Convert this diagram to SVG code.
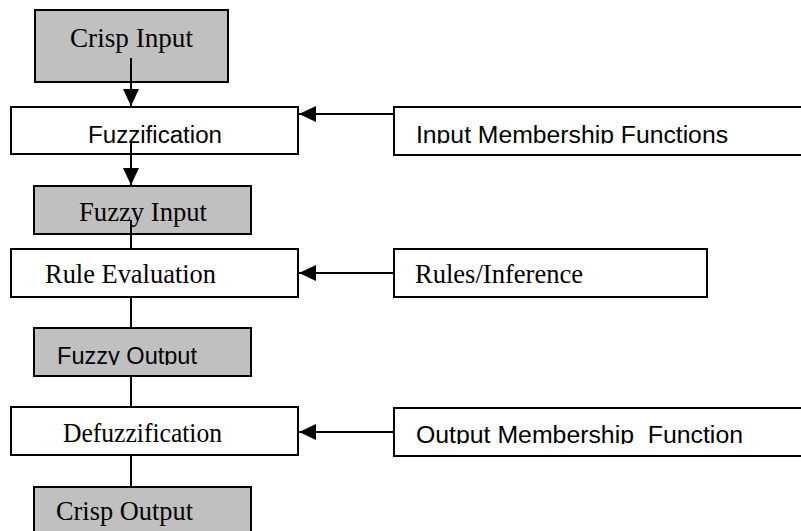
<svg xmlns="http://www.w3.org/2000/svg" width="801" height="531" viewBox="0 0 801 531">
<style>
.box{stroke:#000;stroke-width:2;fill:#fff}
.grey{fill:#c0c0c0}
.serif{font-family:"Liberation Serif","Times New Roman",serif;font-size:26.5px;fill:#000}
.sans{font-family:"Liberation Sans",Arial,sans-serif;font-size:23px;fill:#000}
.conn{stroke:#000;stroke-width:2;fill:none}
</style>
<defs>
<marker id="arr" markerUnits="userSpaceOnUse" markerWidth="17" markerHeight="16" refX="17" refY="8" orient="auto">
<path d="M0,0 L17,8 L0,16 z" fill="#000"/>
</marker>
<clipPath id="c1"><rect x="394" y="100" width="410" height="43.5"/></clipPath>
<clipPath id="c2"><rect x="34" y="320" width="220" height="45"/></clipPath>
<clipPath id="c3"><rect x="394" y="400" width="410" height="44"/></clipPath>
</defs>
<rect width="801" height="531" fill="#fff"/>
<g id="crisp-input">
<rect class="box grey" x="35" y="10" width="193" height="72"/>
<text class="serif" x="70" y="47" textLength="123" lengthAdjust="spacingAndGlyphs">Crisp Input</text>
</g>
<g id="fuzzification">
<rect class="box" x="11" y="107" width="287" height="47"/>
<text class="sans" x="88" y="143" textLength="134" lengthAdjust="spacingAndGlyphs">Fuzzification</text>
</g>
<g id="input-mf">
<rect class="box" x="394" y="107" width="420" height="48"/>
<text class="sans" x="416" y="142.5" textLength="312" lengthAdjust="spacingAndGlyphs" clip-path="url(#c1)">Input Membership Functions</text>
</g>
<g id="fuzzy-input">
<rect class="box grey" x="34" y="186" width="217" height="48"/>
<text class="serif" x="79" y="221" textLength="128" lengthAdjust="spacingAndGlyphs">Fuzzy Input</text>
</g>
<g id="rule-evaluation">
<rect class="box" x="11" y="249" width="287" height="48"/>
<text class="serif" x="45" y="283" textLength="171" lengthAdjust="spacingAndGlyphs">Rule Evaluation</text>
</g>
<g id="rules-inference">
<rect class="box" x="394" y="249" width="313" height="48"/>
<text class="serif" x="415" y="283" textLength="168" lengthAdjust="spacingAndGlyphs">Rules/Inference</text>
</g>
<g id="fuzzy-output">
<rect class="box grey" x="34" y="328" width="217" height="48"/>
<text class="sans" x="57" y="364" textLength="140" lengthAdjust="spacingAndGlyphs" clip-path="url(#c2)">Fuzzy Output</text>
</g>
<g id="defuzzification">
<rect class="box" x="11" y="407" width="287" height="48"/>
<text class="serif" x="63" y="442" textLength="159" lengthAdjust="spacingAndGlyphs">Defuzzification</text>
</g>
<g id="output-mf">
<rect class="box" x="394" y="408" width="420" height="48"/>
<text class="sans" x="416" y="443" textLength="327" lengthAdjust="spacingAndGlyphs" clip-path="url(#c3)" xml:space="preserve">Output Membership  Function</text>
</g>
<g id="crisp-output">
<rect class="box grey" x="34" y="487" width="217" height="60"/>
<text class="serif" x="56" y="520" textLength="137" lengthAdjust="spacingAndGlyphs">Crisp Output</text>
</g>
<g id="connectors">
<line class="conn" x1="131" y1="58" x2="131" y2="106" marker-end="url(#arr)"/>
<line class="conn" x1="131" y1="140" x2="131" y2="185" marker-end="url(#arr)"/>
<line class="conn" x1="131" y1="220" x2="131" y2="249"/>
<line class="conn" x1="131" y1="297" x2="131" y2="328"/>
<line class="conn" x1="131" y1="376" x2="131" y2="407"/>
<line class="conn" x1="131" y1="455" x2="131" y2="487"/>
<line class="conn" x1="394" y1="114" x2="299" y2="114" marker-end="url(#arr)"/>
<line class="conn" x1="394" y1="273" x2="299" y2="273" marker-end="url(#arr)"/>
<line class="conn" x1="394" y1="432" x2="299" y2="432" marker-end="url(#arr)"/>
</g>
</svg>
